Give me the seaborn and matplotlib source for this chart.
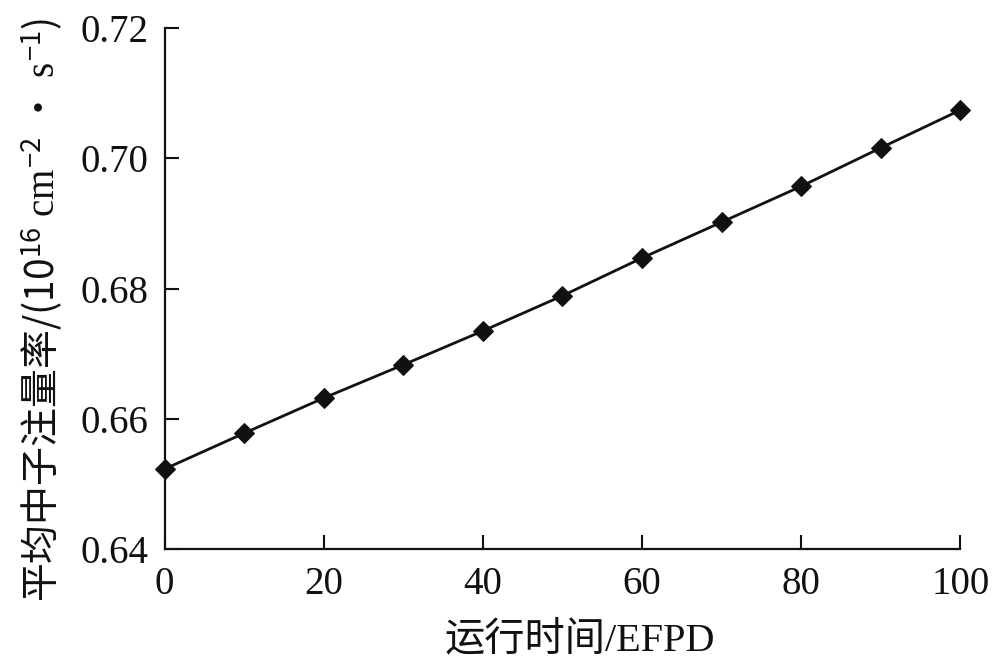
import matplotlib
matplotlib.use("Agg")
import matplotlib.pyplot as plt
import seaborn as sns
import pandas as pd

time_efpd = [0, 10, 20, 30, 40, 50, 60, 70, 80, 90, 100]
flux = [0.6523, 0.6578, 0.6632, 0.6683, 0.6735, 0.6789, 0.6847, 0.6902, 0.6957, 0.7016, 0.7074]
x_ticks = [0, 20, 40, 60, 80, 100]
y_ticks = [0.64, 0.66, 0.68, 0.70, 0.72]
y_tick_labels = ["0.64", "0.66", "0.68", "0.70", "0.72"]

sns.set_theme(style="ticks")
plt.rcParams['font.family'] = ['Liberation Serif', 'Noto Sans CJK SC']
plt.rcParams['mathtext.fontset'] = 'custom'
plt.rcParams['mathtext.rm'] = 'Noto Sans CJK SC'
plt.rcParams['mathtext.it'] = 'Liberation Serif'
plt.rcParams['mathtext.bf'] = 'Liberation Serif'

df = pd.DataFrame({"t": time_efpd, "f": flux})

fig = plt.figure(figsize=(9.92, 6.68), dpi=100)
ax = fig.add_axes([0.166, 0.178, 0.802, 0.780])
sns.lineplot(data=df, x="t", y="f", ax=ax, color="#111111", linewidth=2.0,
             marker="D", markersize=10.5, markeredgecolor="#111111",
             markerfacecolor="#111111", clip_on=False)

ax.set_xlim(0, 100)
ax.set_ylim(0.64, 0.72)
ax.set_xticks(x_ticks)
ax.set_yticks(y_ticks)
ax.set_yticklabels(y_tick_labels)
ax.tick_params(direction="in", length=10, width=1.5, labelsize=28, color="#111111",
               labelcolor="#111111", pad=12)
for s in ["left", "bottom"]:
    ax.spines[s].set_linewidth(1.6)
    ax.spines[s].set_color("#111111")
sns.despine(ax=ax)

ax.set_xlabel("运行时间/EFPD", fontsize=29, color="#111111")
ax.xaxis.set_label_coords(0.522, -0.175)
ax.xaxis.label.set_va("center")
ax.set_ylabel(r"$\mathrm{平均中子注量率}\mathit{/(10^{16}\ cm^{-2}\ ·\ s^{-1})}$",
              fontsize=28, color="#111111")
ax.yaxis.set_label_coords(-0.155, 0.46)
ax.yaxis.label.set_va("center")

fig.savefig("out.png", dpi=100)
